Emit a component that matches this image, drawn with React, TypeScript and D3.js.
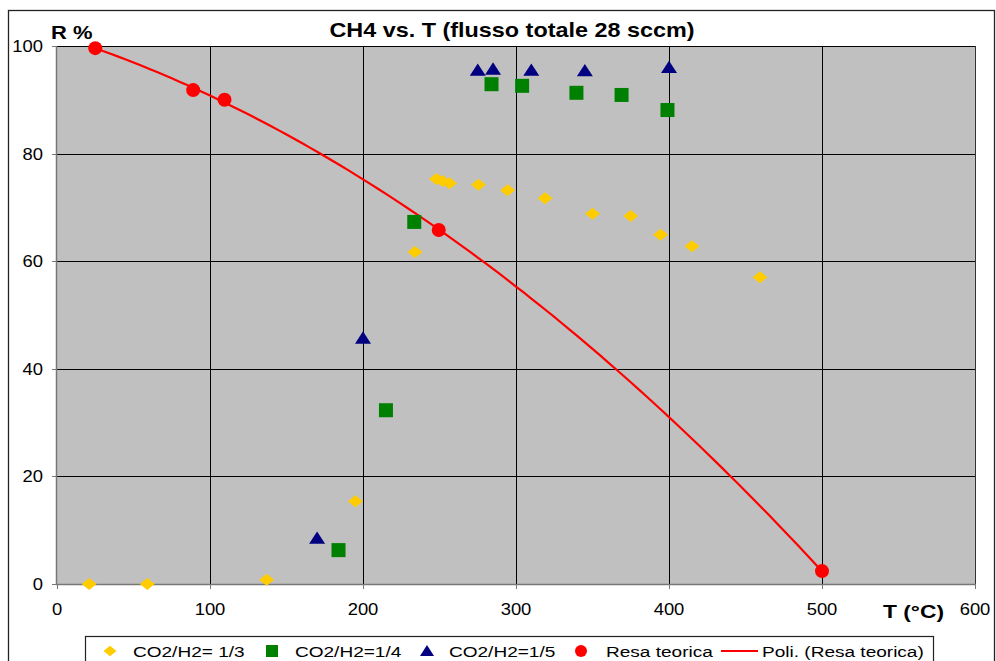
import React, { useRef, useEffect } from 'react';
import * as d3 from 'd3';

// CO2/H2 = 1/3
const t13 = [21, 59, 137, 195, 234, 248, 252, 256.5, 275.5, 294.5, 319, 350, 375, 394.5, 415, 459.5];
const r13 = [0, 0, 0.8, 15.4, 61.7, 75.3, 74.9, 74.5, 74.2, 73.2, 71.7, 68.8, 68.4, 64.9, 62.8, 57];

// CO2/H2 = 1/4
const t14 = [184, 215, 233.5, 284, 304, 339.5, 369, 399];
const r14 = [6.3, 32.3, 67.3, 92.9, 92.6, 91.3, 90.9, 88.1];

// CO2/H2 = 1/5
const t15 = [170, 200, 275, 285, 310, 345, 400];
const r15 = [8.5, 45.7, 95.5, 95.7, 95.5, 95.4, 96];

// Resa teorica
const tRes = [25, 89, 109.5, 249.5, 500];
const rRes = [99.6, 91.8, 90, 65.8, 2.4];

const xTicks = [0, 100, 200, 300, 400, 500, 600];
const yTicks = [0, 20, 40, 60, 80, 100];

const legendLabels = ['CO2/H2= 1/3', 'CO2/H2=1/4', 'CO2/H2=1/5', 'Resa teorica', 'Poli. (Resa teorica)'];

const FONT = '"Liberation Sans", Arial, sans-serif';

// quadratic least squares fit (Excel "Poli." trendline, order 2)
function polyFit2(xs: number[], ys: number[]) {
  const n = xs.length;
  let s1 = 0, s2 = 0, s3 = 0, s4 = 0, sy = 0, sxy = 0, sx2y = 0;
  for (let i = 0; i < n; i++) {
    const x = xs[i], y = ys[i];
    s1 += x; s2 += x * x; s3 += x * x * x; s4 += x * x * x * x;
    sy += y; sxy += x * y; sx2y += x * x * y;
  }
  const M = [
    [n, s1, s2, sy],
    [s1, s2, s3, sxy],
    [s2, s3, s4, sx2y],
  ];
  for (let i = 0; i < 3; i++) {
    for (let k = i + 1; k < 3; k++) {
      const f = M[k][i] / M[i][i];
      for (let j = i; j < 4; j++) M[k][j] -= f * M[i][j];
    }
  }
  const c = [0, 0, 0];
  for (let i = 2; i >= 0; i--) {
    let s = M[i][3];
    for (let j = i + 1; j < 3; j++) s -= M[i][j] * c[j];
    c[i] = s / M[i][i];
  }
  return (x: number) => c[0] + c[1] * x + c[2] * x * x;
}

const App = () => {
  const svgRef = useRef<SVGSVGElement>(null);
  const width = 996;
  const height = 661;

  useEffect(() => {
    const svg = d3.select(svgRef.current);
    svg.selectAll('*').remove();

    const plot = { left: 57, top: 46, right: 975, bottom: 584 };

    const xScale = d3.scaleLinear().domain([0, 600]).range([plot.left, plot.right]);
    const yScale = d3.scaleLinear().domain([0, 100]).range([plot.bottom, plot.top]);

    // the original rendering is stretched horizontally, so text gets a scaleX
    const label = (g: any, x: number, y: number, txt: string, size: number, sx: number, anchor = 'start', bold = false) =>
      g.append('text')
        .attr('transform', `translate(${x},${y}) scale(${sx},1)`)
        .attr('text-anchor', anchor)
        .attr('font-family', FONT)
        .attr('font-size', size)
        .attr('font-weight', bold ? 'bold' : 'normal')
        .attr('fill', '#000')
        .text(txt);

    svg.append('rect')
      .attr('width', width).attr('height', height).attr('fill', '#fff');

    // outer chart frame
    svg.append('rect')
      .attr('x', 8.5).attr('y', 10.5)
      .attr('width', 986).attr('height', 700)
      .attr('fill', 'none').attr('stroke', '#222').attr('stroke-width', 1.3);

    // plot background
    svg.append('rect')
      .attr('x', plot.left).attr('y', plot.top)
      .attr('width', plot.right - plot.left).attr('height', plot.bottom - plot.top)
      .attr('fill', '#c0c0c0');

    // grid lines
    svg.append('g')
      .selectAll('line')
      .data(yTicks.filter(d => d > 0 && d < 100))
      .enter().append('line')
      .attr('x1', plot.left).attr('x2', plot.right)
      .attr('y1', d => Math.round(yScale(d)) + 0.5).attr('y2', d => Math.round(yScale(d)) + 0.5)
      .attr('stroke', '#000').attr('stroke-width', 1);

    svg.append('g')
      .selectAll('line')
      .data(xTicks.filter(d => d > 0 && d < 600))
      .enter().append('line')
      .attr('y1', plot.top).attr('y2', plot.bottom)
      .attr('x1', d => Math.round(xScale(d)) + 0.5).attr('x2', d => Math.round(xScale(d)) + 0.5)
      .attr('stroke', '#000').attr('stroke-width', 1);

    // plot border: top/right dark, left/bottom grey axis lines
    svg.append('line')
      .attr('x1', plot.left).attr('x2', plot.right)
      .attr('y1', plot.top + 0.5).attr('y2', plot.top + 0.5)
      .attr('stroke', '#000');
    svg.append('line')
      .attr('x1', plot.right + 0.5).attr('x2', plot.right + 0.5)
      .attr('y1', plot.top).attr('y2', plot.bottom)
      .attr('stroke', '#333');
    svg.append('line')
      .attr('x1', plot.left - 0.5).attr('x2', plot.left - 0.5)
      .attr('y1', plot.top).attr('y2', plot.bottom + 0.5)
      .attr('stroke', '#777').attr('stroke-width', 1.5);
    svg.append('line')
      .attr('x1', plot.left - 1).attr('x2', plot.right + 1)
      .attr('y1', plot.bottom + 0.5).attr('y2', plot.bottom + 0.5)
      .attr('stroke', '#777').attr('stroke-width', 1.5);

    // tick marks
    svg.append('g').selectAll('line')
      .data(yTicks).enter().append('line')
      .attr('x1', plot.left - 5).attr('x2', plot.left)
      .attr('y1', d => Math.round(yScale(d)) + 0.5).attr('y2', d => Math.round(yScale(d)) + 0.5)
      .attr('stroke', '#777');
    svg.append('g').selectAll('line')
      .data(xTicks).enter().append('line')
      .attr('y1', plot.bottom).attr('y2', plot.bottom + 5)
      .attr('x1', d => Math.round(xScale(d)) + 0.5).attr('x2', d => Math.round(xScale(d)) + 0.5)
      .attr('stroke', '#777');

    // tick labels
    const yLab = svg.append('g');
    yTicks.forEach(d => label(yLab, 43, yScale(d) + 6, String(d), 16, 1.15, 'end'));
    const xLab = svg.append('g');
    xTicks.forEach(d => label(xLab, xScale(d), 614.5, String(d), 16, 1.15, 'middle'));

    // title & axis titles
    label(svg, 512, 37, 'CH4 vs. T (flusso totale 28 sccm)', 20, 1.17, 'middle', true);
    label(svg, 51, 39, 'R %', 18, 1.22, 'start', true);
    label(svg, 883, 618, 'T (°C)', 19, 1.2, 'start', true);

    // trendline
    const fit = polyFit2(tRes, rRes);
    const trendX = d3.range(tRes[0], tRes[tRes.length - 1] + 0.01, 5);
    const line = d3.line<number>()
      .x(d => xScale(d))
      .y(d => yScale(fit(d)));
    svg.append('path')
      .datum(trendX)
      .attr('d', line)
      .attr('fill', 'none')
      .attr('stroke', '#ff0000')
      .attr('stroke-width', 2.2);

    const diamond = (s: number) => `M0,${-s * 0.8}L${s},0L0,${s * 0.8}L${-s},0Z`;
    const triangle = (s: number) => `M0,${-s * 0.85}L${s},${s * 0.7}L${-s},${s * 0.7}Z`;

    // series 1/3: diamonds
    svg.append('g').selectAll('path')
      .data(t13.map((t, i) => [t, r13[i]]))
      .enter().append('path')
      .attr('transform', d => `translate(${xScale(d[0])},${yScale(d[1])})`)
      .attr('d', diamond(7.5))
      .attr('fill', '#ffcc00');

    // series 1/4: squares
    svg.append('g').selectAll('rect')
      .data(t14.map((t, i) => [t, r14[i]]))
      .enter().append('rect')
      .attr('x', d => xScale(d[0]) - 7).attr('y', d => yScale(d[1]) - 7)
      .attr('width', 14).attr('height', 14)
      .attr('fill', '#008000');

    // series 1/5: triangles
    svg.append('g').selectAll('path')
      .data(t15.map((t, i) => [t, r15[i]]))
      .enter().append('path')
      .attr('transform', d => `translate(${xScale(d[0])},${yScale(d[1])})`)
      .attr('d', triangle(8))
      .attr('fill', '#000080');

    // Resa teorica: circles
    svg.append('g').selectAll('circle')
      .data(tRes.map((t, i) => [t, rRes[i]]))
      .enter().append('circle')
      .attr('cx', d => xScale(d[0])).attr('cy', d => yScale(d[1]))
      .attr('r', 7)
      .attr('fill', '#ff0000');

    // legend
    const lg = svg.append('g');
    lg.append('rect')
      .attr('x', 85.5).attr('y', 636.5)
      .attr('width', 848).attr('height', 40)
      .attr('fill', '#fff').attr('stroke', '#222').attr('stroke-width', 1.2);
    const ly = 651;
    lg.append('path')
      .attr('transform', `translate(110,${ly})`)
      .attr('d', diamond(6.5)).attr('fill', '#ffcc00');
    lg.append('rect')
      .attr('x', 266).attr('y', ly - 6).attr('width', 12).attr('height', 12)
      .attr('fill', '#008000');
    lg.append('path')
      .attr('transform', `translate(427,${ly})`)
      .attr('d', triangle(7)).attr('fill', '#000080');
    lg.append('circle')
      .attr('cx', 581).attr('cy', ly).attr('r', 6).attr('fill', '#ff0000');
    lg.append('line')
      .attr('x1', 721).attr('x2', 758).attr('y1', ly).attr('y2', ly)
      .attr('stroke', '#ff0000').attr('stroke-width', 2.2);

    const legendX = [133, 295, 449, 606, 762];
    legendLabels.forEach((txt, i) => label(lg, legendX[i], ly + 6, txt, 15, 1.27));
  }, []);

  return (
    <svg
      ref={svgRef}
      width={width}
      height={height}
      style={{ position: 'absolute', left: 0, top: 0, display: 'block' }}
    />
  );
};

export default App;
